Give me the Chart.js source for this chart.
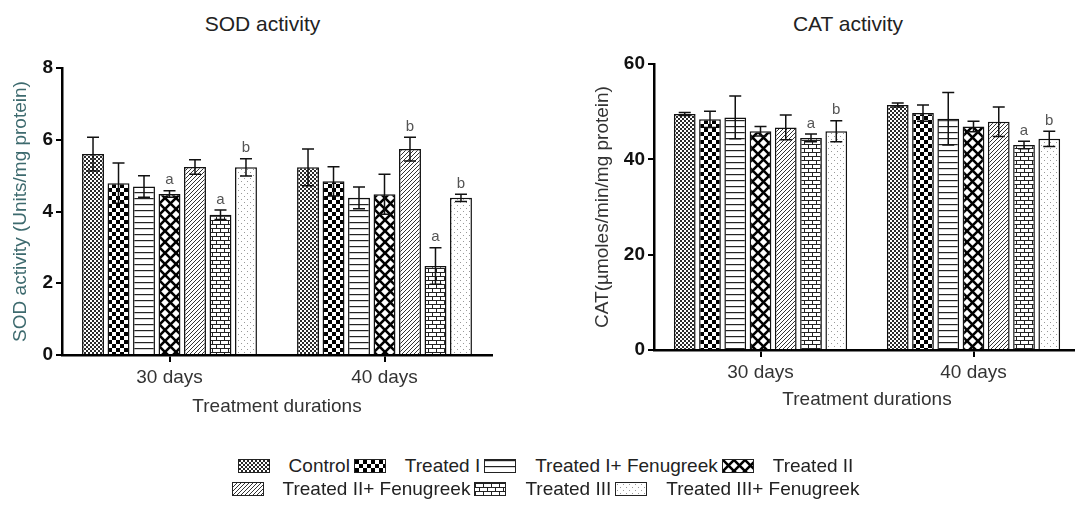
<!DOCTYPE html>
<html>
<head>
<meta charset="utf-8">
<script src="https://cdn.jsdelivr.net/npm/chart.js@4.4.0/dist/chart.umd.min.js"></script>
<style>
  body { margin: 0; width: 1075px; height: 527px; overflow: hidden; background: #fff; font-family: Arial, "Liberation Sans", sans-serif; position: relative; }
  .box { position: absolute; }
  .ttl { position: absolute; top: 12px; font-size: 21px; color: #222; text-align: center; }
  .legend { position: absolute; left: 10px; width: 1075px; font-size: 19px; color: #222; }
  .row { display: flex; justify-content: center; align-items: center; height: 23px; }
  .row canvas { border: 1px solid #222; margin-right: 19px; }
  .row span { margin-right: 4px; }
</style>
</head>
<body>
<div class="ttl" style="left:0;width:525px">SOD activity</div>
<div class="ttl" style="left:560px;width:576px">CAT activity</div>
<div class="box" style="left:0;top:0"><canvas id="sodChart" width="540" height="430"></canvas></div>
<div class="box" style="left:560px;top:0"><canvas id="catChart" width="520" height="420"></canvas></div>
<div class="legend" id="legend" style="top:454px"></div>
<script>
const durations = ["30 days", "40 days"];
const groups = ["Control", "Treated I", "Treated I+ Fenugreek", "Treated II", "Treated II+ Fenugreek", "Treated III", "Treated III+ Fenugreek"];

// SOD activity, each pair = [30 days, 40 days]
const sodMean = [[5.60, 5.23], [4.79, 4.84], [4.70, 4.38], [4.49, 4.48], [5.24, 5.74], [3.91, 2.48], [5.23, 4.38]];
const sodErr  = [[0.47, 0.51], [0.56, 0.41], [0.30, 0.30], [0.09, 0.56], [0.20, 0.33], [0.13, 0.51], [0.24, 0.10]];
const sodSig  = [["", ""], ["", ""], ["", ""], ["a", ""], ["", "b"], ["a", "a"], ["b", "b"]];
const sodTicks = [0, 2, 4, 6, 8];

// CAT activity
const catMean = [[49.5, 51.4], [48.4, 49.7], [48.8, 48.5], [45.9, 46.9], [46.7, 47.9], [44.5, 43.0], [45.9, 44.3]];
const catErr  = [[0.3, 0.4], [1.7, 1.7], [4.5, 5.5], [1.0, 1.1], [2.6, 3.1], [0.8, 0.8], [2.2, 1.6]];
const catSig  = [["", ""], ["", ""], ["", ""], ["", ""], ["", ""], ["a", "a"], ["b", "b"]];
const catTicks = [0, 20, 40, 60];

const FONT = "Arial, 'Liberation Sans', sans-serif";

function tile(w, h, draw) {
  const c = document.createElement("canvas");
  c.width = w; c.height = h;
  const g = c.getContext("2d");
  g.fillStyle = "#fff";
  g.fillRect(0, 0, w, h);
  draw(g);
  return c;
}

// one fill pattern per group, GraphPad style
const tiles = [
  tile(4, 4, g => { g.fillStyle = "#2a2a2a"; g.fillRect(0, 0, 2, 2); g.fillRect(2, 2, 2, 2); }),
  tile(8, 8, g => { g.fillStyle = "#000"; g.fillRect(0, 0, 4, 4); g.fillRect(4, 4, 4, 4); }),
  tile(6, 6, g => { g.fillStyle = "#222"; g.fillRect(0, 0, 6, 1.2); }),
  tile(11, 11, g => {
    g.strokeStyle = "#000"; g.lineWidth = 2.6;
    g.beginPath(); g.moveTo(-1, -1); g.lineTo(12, 12); g.moveTo(12, -1); g.lineTo(-1, 12); g.stroke();
  }),
  tile(4, 4, g => {
    g.strokeStyle = "#333"; g.lineWidth = 1;
    g.beginPath(); g.moveTo(0, 4); g.lineTo(4, 0); g.moveTo(-1, 1); g.lineTo(1, -1); g.moveTo(3, 5); g.lineTo(5, 3); g.stroke();
  }),
  tile(8, 8, g => {
    g.fillStyle = "#222";
    g.fillRect(0, 0, 8, 1); g.fillRect(0, 4, 8, 1);
    g.fillRect(0, 0, 1, 4); g.fillRect(4, 4, 1, 4);
  }),
  tile(6, 6, g => { g.fillStyle = "#999"; g.fillRect(1, 1, 1, 1); g.fillRect(4, 4, 1, 1); })
];

function patternsFor(ctx) {
  return tiles.map(t => ctx.createPattern(t, "repeat"));
}

const errorBars = {
  id: "errorBars",
  afterDatasetsDraw(chart) {
    const ctx = chart.ctx, y = chart.scales.y;
    ctx.save();
    ctx.strokeStyle = "#111";
    ctx.lineWidth = 1.5;
    ctx.fillStyle = "#555";
    ctx.font = "15px " + FONT;
    ctx.textAlign = "center";
    ctx.textBaseline = "bottom";
    chart.data.datasets.forEach((ds, i) => {
      chart.getDatasetMeta(i).data.forEach((bar, j) => {
        const v = ds.data[j], e = ds.errors[j];
        const top = y.getPixelForValue(v + e), bot = y.getPixelForValue(v - e);
        const x = bar.x, cap = 6;
        ctx.beginPath();
        ctx.moveTo(x, top); ctx.lineTo(x, bot);
        ctx.moveTo(x - cap, top); ctx.lineTo(x + cap, top);
        ctx.moveTo(x - cap, bot); ctx.lineTo(x + cap, bot);
        ctx.stroke();
        if (ds.sig[j]) ctx.fillText(ds.sig[j], x, top - 3);
      });
    });
    ctx.restore();
  }
};

function makeChart(id, means, errs, sigs, ticks, yTitle, yColor, geo) {
  const ctx = document.getElementById(id).getContext("2d");
  const fills = patternsFor(ctx);
  return new Chart(ctx, {
    type: "bar",
    data: {
      labels: durations,
      datasets: groups.map((g, i) => ({
        label: g,
        data: means[i],
        errors: errs[i],
        sig: sigs[i],
        backgroundColor: fills[i],
        borderColor: "#111",
        borderWidth: 1.5,
        categoryPercentage: 0.83,
        barPercentage: 0.86
      }))
    },
    options: {
      responsive: false,
      animation: false,
      layout: { padding: { top: geo.top, right: geo.right, left: 0, bottom: 0 } },
      plugins: { legend: { display: false }, tooltip: { enabled: false } },
      scales: {
        x: {
          grid: { offset: false, drawOnChartArea: false, tickLength: 7, color: "#000", lineWidth: 2 },
          border: { color: "#000", width: 2.5 },
          ticks: { font: { size: 19, family: FONT }, color: "#333", padding: 4 },
          title: { display: true, text: "Treatment durations", color: "#333",
                   font: { size: 19, family: FONT }, padding: { top: 0, bottom: geo.xTitlePad } },
          afterFit: s => { s.height = geo.xHeight; }
        },
        y: {
          min: ticks[0],
          max: ticks[ticks.length - 1],
          grid: { drawOnChartArea: false, tickLength: 6, color: "#000", lineWidth: 2 },
          border: { color: "#000", width: 2.5 },
          ticks: { stepSize: ticks[1] - ticks[0], font: { size: 19, weight: "bold", family: FONT }, color: "#111", padding: 3 },
          title: { display: true, text: yTitle, color: yColor,
                   font: { size: 19, family: FONT }, padding: { top: geo.yTitlePad, bottom: 0 } },
          afterFit: s => { s.width = geo.yWidth; }
        }
      }
    },
    plugins: [errorBars]
  });
}

makeChart("sodChart", sodMean, sodErr, sodSig, sodTicks, "SOD activity (Units/mg protein)", "#3d6a6e",
  { top: 68, right: 48, xHeight: 75, xTitlePad: 12, yWidth: 62, yTitlePad: 9 });
makeChart("catChart", catMean, catErr, catSig, catTicks, "CAT(µmoles/min/mg protein)", "#333",
  { top: 64, right: 0, xHeight: 70, xTitlePad: 9, yWidth: 94, yTitlePad: 31 });

// shared legend in two rows
const legend = document.getElementById("legend");
[groups.slice(0, 4), groups.slice(4)].forEach((rowGroups, r) => {
  const row = document.createElement("div");
  row.className = "row";
  rowGroups.forEach((g, k) => {
    const i = r * 4 + k;
    const sw = document.createElement("canvas");
    sw.width = 30; sw.height = 12;
    const sctx = sw.getContext("2d");
    sctx.fillStyle = sctx.createPattern(tiles[i], "repeat");
    sctx.fillRect(0, 0, 30, 12);
    const label = document.createElement("span");
    label.textContent = g;
    row.appendChild(sw);
    row.appendChild(label);
  });
  legend.appendChild(row);
});
</script>
</body>
</html>
